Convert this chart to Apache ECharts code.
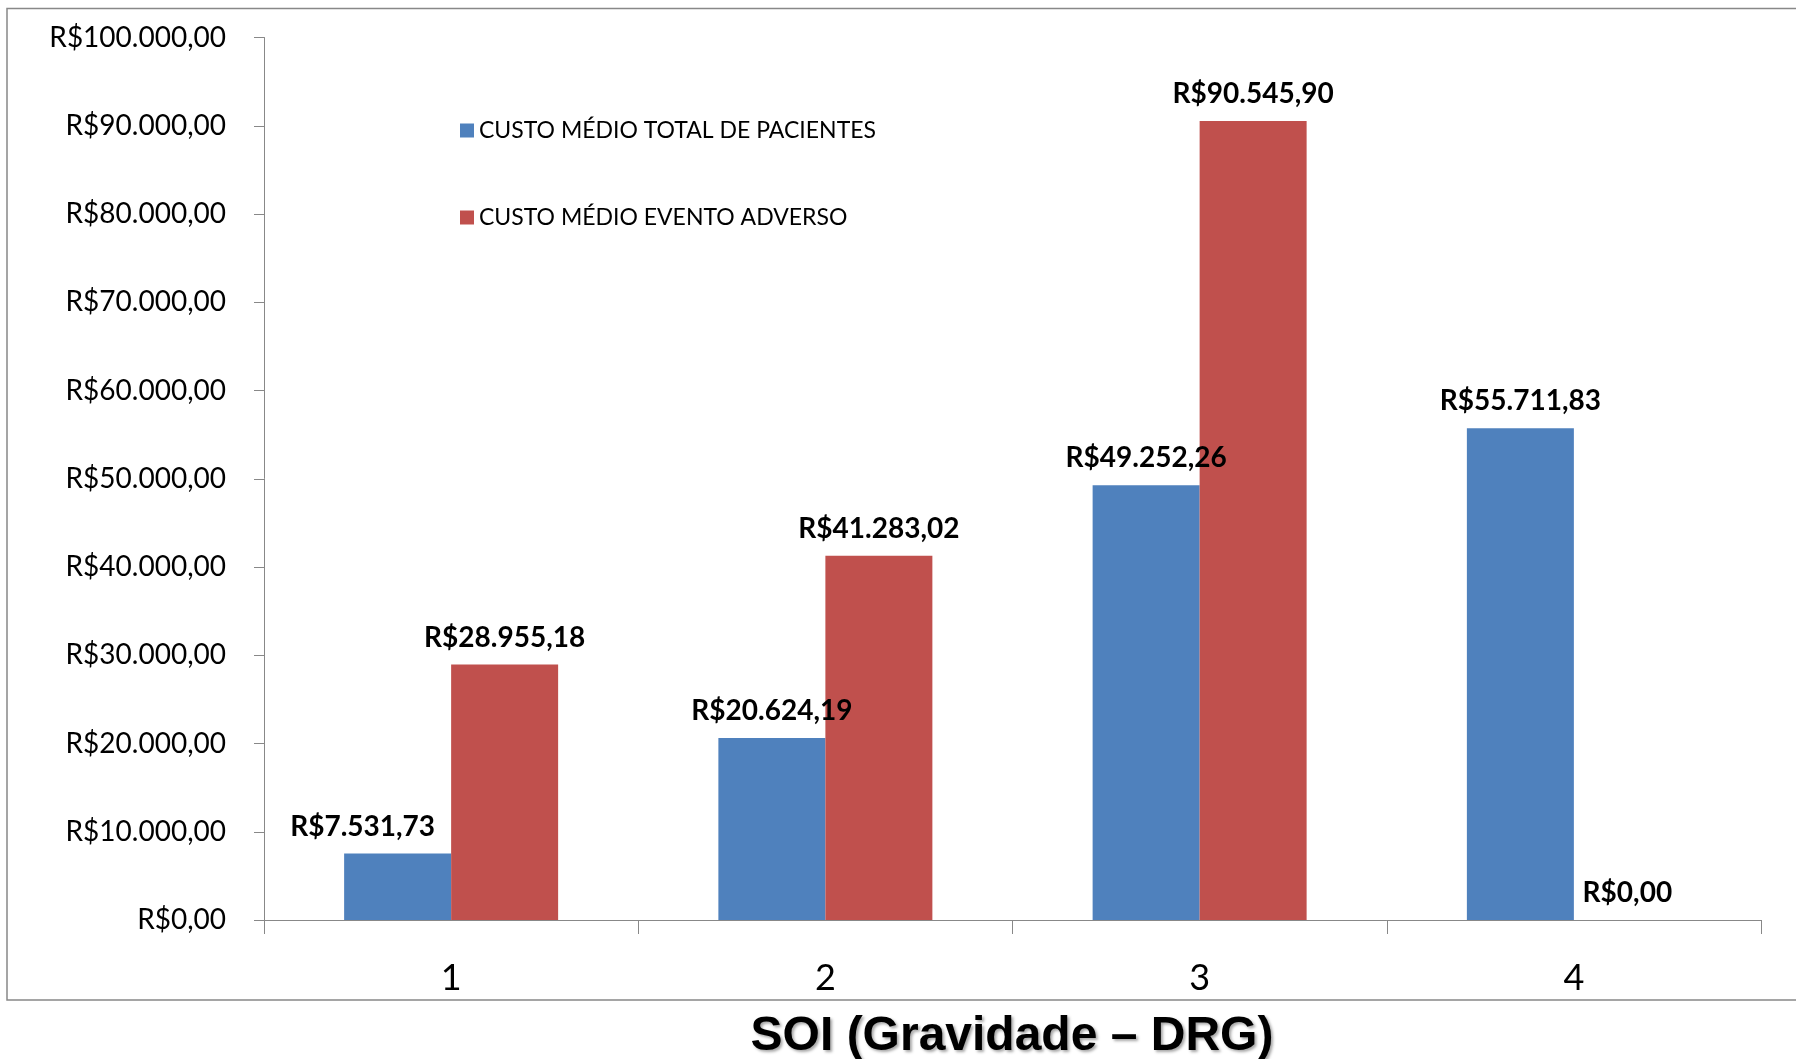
<!DOCTYPE html>
<html>
<head>
<meta charset="utf-8">
<script src="https://cdn.jsdelivr.net/npm/echarts@6/dist/echarts.min.js"></script>
<style>
  html,body{margin:0;padding:0;background:#fff;}
  #main{width:1796px;height:1059px;}
</style>
</head>
<body>
<div id="main"></div>
<script>
  // categorias (SOI) e valores
  var categorias = ['1', '2', '3', '4'];
  var custoTotal = [7531.73, 20624.19, 49252.26, 55711.83];
  var custoEvento = [28955.18, 41283.02, 90545.90, 0];
  var nomes = ['CUSTO MÉDIO TOTAL DE PACIENTES', 'CUSTO MÉDIO EVENTO ADVERSO'];

  // formata no padrão R$1.234,56
  function fmtBRL(v){
    var p = Number(v).toFixed(2).split('.');
    var inteiro = p[0].replace(/\B(?=(\d{3})+(?!\d))/g, '.');
    return 'R$' + inteiro + ',' + p[1];
  }

  var labelComum = {
    show: true,
    position: 'top',
    distance: 13,
    fontFamily: 'Lato',
    fontWeight: 'bold',
    fontSize: 28,
    color: '#000',
    formatter: function(p){ return fmtBRL(p.value); }
  };

  var dadosTotal = custoTotal.map(function(v, i){
    var item = {value: v};
    if(i === 0){
      item.label = {offset: [-35, 0]}; // rótulo deslocado como no original
    }
    return item;
  });

  var chart = echarts.init(document.getElementById('main'));
  var option = {
    backgroundColor: '#fff',
    animation: false,
    grid: {left: 264, right: 35, top: 37.5, bottom: 139},
    legend: {
      orient: 'vertical',
      left: 455,
      top: 114,
      itemWidth: 14,
      itemHeight: 14,
      itemGap: 64,
      icon: 'rect',
      textStyle: {fontFamily: 'Lato', fontSize: 23, color: '#000'},
      data: nomes
    },
    xAxis: {
      type: 'category',
      data: categorias,
      axisLine: {lineStyle: {color: '#888', width: 1}},
      axisTick: {show: true, length: 14, lineStyle: {color: '#888'}},
      axisLabel: {fontFamily: 'Lato', fontSize: 36, color: '#000', margin: 40}
    },
    yAxis: {
      type: 'value',
      min: 0,
      max: 100000,
      interval: 10000,
      axisLine: {show: true, lineStyle: {color: '#888', width: 1}},
      axisTick: {show: true, length: 10, lineStyle: {color: '#888'}},
      splitLine: {show: false},
      axisLabel: {
        fontFamily: 'Lato', fontSize: 28, color: '#000', margin: 38,
        formatter: function(v){ return fmtBRL(v); }
      }
    },
    series: [
      {
        name: nomes[0],
        type: 'bar',
        barWidth: 107,
        barGap: '0%',
        itemStyle: {color: '#4F81BD'},
        label: labelComum,
        data: dadosTotal
      },
      {
        name: nomes[1],
        type: 'bar',
        barWidth: 107,
        barGap: '0%',
        itemStyle: {color: '#C0504D'},
        label: labelComum,
        data: custoEvento
      }
    ],
    graphic: [
      {
        type: 'rect',
        shape: {x: 7, y: 8.5, width: 1800, height: 991.5},
        style: {fill: 'none', stroke: '#888', lineWidth: 1.5},
        silent: true
      },
      {
        type: 'text',
        x: 1012,
        y: 1037,
        style: {
          text: 'SOI (Gravidade – DRG)',
          font: 'bold 48px "Liberation Sans", Arial, sans-serif',
          fill: '#000',
          align: 'center',
          verticalAlign: 'middle',
          textShadowColor: 'rgba(0,0,0,0.35)',
          textShadowBlur: 3,
          textShadowOffsetX: 2,
          textShadowOffsetY: 2
        }
      }
    ]
  };
  chart.setOption(option);
</script>
</body>
</html>
